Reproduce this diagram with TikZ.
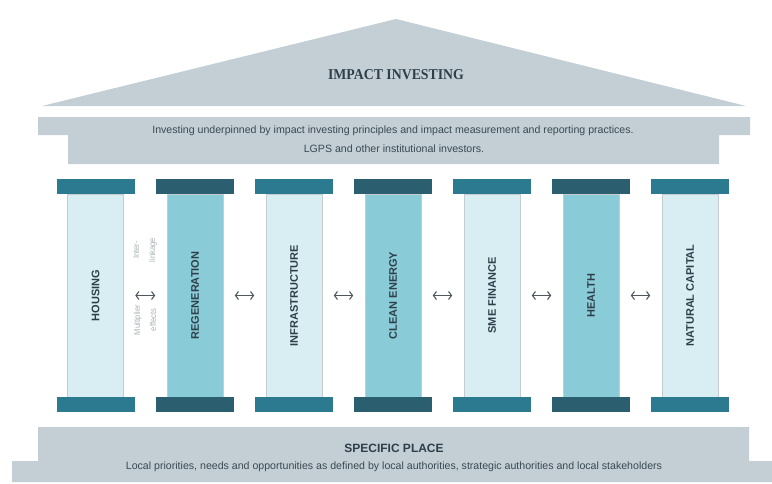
\documentclass[tikz,border=0pt]{standalone}
\usepackage{fontspec}
\setmainfont{Liberation Sans}
\newfontfamily\narrowfont{Liberation Sans}[FakeStretch=0.9]
\newfontfamily\slabfont{Liberation Serif}[FakeStretch=0.92]
\usepackage{tikz}
\usetikzlibrary{positioning,arrows.meta}

\definecolor{roofgray}{HTML}{C3CED5}
\definecolor{darktext}{HTML}{2E3F4A}
\definecolor{captext}{HTML}{3A4A52}
\definecolor{capteal}{HTML}{2C7A90}
\definecolor{capdark}{HTML}{2B5E6E}
\definecolor{shaftpale}{HTML}{D9EEF3}
\definecolor{shaftblue}{HTML}{89CCD8}
\definecolor{shaftline}{HTML}{C4CCD0}
\definecolor{arrowgray}{HTML}{4D575D}
\definecolor{notegray}{HTML}{A9B1B5}

\begin{document}
\begin{tikzpicture}[x=1pt, y=-1pt,
        roof/.style={fill=roofgray},
        capbox/.style={minimum width=78pt, minimum height=15pt, inner sep=0pt},
        shaft/.style={draw=shaftline, line width=0.6pt, minimum width=56pt, minimum height=203pt, inner sep=0pt, text=darktext, font=\bfseries\fontsize{11}{13}\selectfont},
        link/.style={{Straight Barb[length=3pt,width=8pt]}-{Straight Barb[length=3pt,width=8pt]}, line width=1.1pt, draw=arrowgray, shorten <=11.5pt, shorten >=11.5pt},
        note/.style={text=notegray, align=center, font=\narrowfont\fontsize{8.5}{16}\selectfont},
        body/.style={text=captext, font=\fontsize{10.6}{12}\selectfont},
        heading/.style={text=darktext, font=\bfseries\fontsize{12}{14}\selectfont}]
        \useasboundingbox (0,0) rectangle (772,483);

        % roof and entablature
        \fill[roof] (42,106) -- (396,19) -- (746,106) -- cycle;
        \fill[roof] (38,117) -- (750,117) -- (750,135) -- (719,135) -- (719,164) -- (68,164) -- (68,135) -- (38,135) -- cycle;
        \node[text=darktext, font=\slabfont\bfseries\fontsize{15}{17}\selectfont] (title) at (396,74.5) {IMPACT INVESTING};
        \node[body] (principles) at (393,131) {Investing underpinned by impact investing principles and impact measurement and reporting practices.};
        \node[body] (investors) at (394,149) {LGPS and other institutional investors.};

        % pillars - shaft s<i> with caps t<i> (top) and b<i> (bottom)
        \foreach \i/\x/\lbl/\capc/\shaftc in {1/95.5/HOUSING/capteal/shaftpale, 2/195/REGENERATION/capdark/shaftblue,
                3/294/INFRASTRUCTURE/capteal/shaftpale, 4/393/CLEAN ENERGY/capdark/shaftblue, 5/492/SME FINANCE/capteal/shaftpale,
                6/591/HEALTH/capdark/shaftblue, 7/690/NATURAL CAPITAL/capteal/shaftpale}{
            \node[shaft, fill=\shaftc] (s\i) at (\x,295.5) {\rotatebox{90}{\lbl}};
            \node[capbox, fill=\capc] (t\i) at (\x,186.5) {};
            \node[capbox, fill=\capc] (b\i) at (\x,404.5) {};
        }

        % links between neighbouring pillars
        \foreach \i/\j in {1/2,2/3,3/4,4/5,5/6,6/7}
            \draw[link] (s\i.east) -- (s\j.west);
        \node[note, rotate=90] (interlink) at (145,250) {Inter-\\linkage};
        \node[note, rotate=90] (multiplier) at (145,320) {Multiplier\\effects};

        % base
        \fill[roof] (38,427) -- (749,427) -- (749,461) -- (772,461) -- (772,482) -- (12,482) -- (12,461) -- (38,461) -- cycle;
        \node[heading] (place) at (394,448) {SPECIFIC PLACE};
        \node[body] (priorities) at (394,467) {Local priorities, needs and opportunities as defined by local authorities, strategic authorities and local stakeholders};
    \end{tikzpicture}
\end{document}
